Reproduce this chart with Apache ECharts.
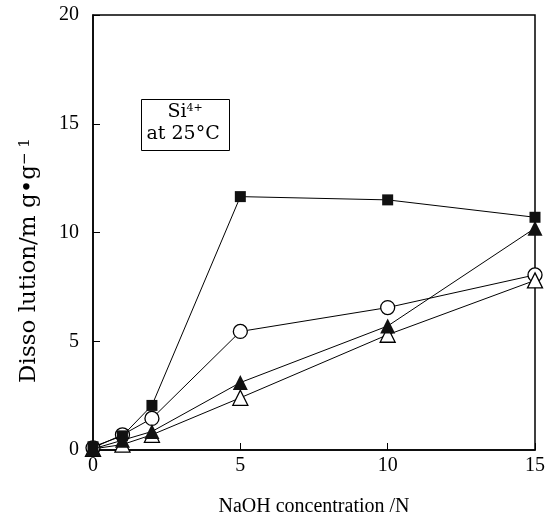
<!DOCTYPE html>
<html>
<head>
<meta charset="utf-8">
<script src="https://cdn.jsdelivr.net/npm/echarts@6/dist/echarts.min.js"></script>
<style>
html,body{margin:0;padding:0;background:#fff;}
#main{width:553px;height:522px;}
</style>
</head>
<body>
<div id="main"></div>
<script>
// NaOH 濃度 (N)
var naoh = [0, 1, 2, 5, 10, 15];
// 溶出量 mg/g
var sqFilled = [0.15, 0.65, 2.05, 11.65, 11.5, 10.7];
var cirOpen = [0.1, 0.7, 1.45, 5.45, 6.55, 8.05];
var triFilled = [0.05, 0.45, 0.85, 3.1, 5.7, 10.2];
var triOpen = [0.05, 0.25, 0.7, 2.4, 5.3, 7.8];
var xTicks = [0, 5, 10, 15];
var yTicks = [0, 5, 10, 15, 20];

var myChart = echarts.init(document.getElementById('main'));
var font = '"Liberation Serif", "DejaVu Serif", serif';
var wide = '"DejaVu Serif", serif';

function pairs(ys) {
    return naoh.map(function (x, i) { return [x, ys[i]]; });
}
function mk(name, ys, symbol, size, filled) {
    return {
        name: name,
        type: 'line',
        data: pairs(ys),
        symbol: symbol,
        symbolSize: size,
        showSymbol: true,
        lineStyle: { color: '#000', width: 1 },
        itemStyle: { color: filled ? '#111' : '#fff', borderColor: '#000', borderWidth: filled ? 0 : 1.3 },
        z: filled ? 3 : 2
    };
}

var option = {
    animation: false,
    grid: {
        left: 93, top: 15, right: 18, bottom: 69,
        show: true, borderColor: '#000', borderWidth: 1.5, backgroundColor: 'transparent'
    },
    xAxis: {
        type: 'value', min: 0, max: 15, interval: 5,
        name: 'NaOH concentration /N',
        nameLocation: 'middle', nameGap: 47,
        nameTextStyle: { fontFamily: font, fontSize: 20, color: '#000' },
        axisLine: { show: true, lineStyle: { color: '#000', width: 1.5 } },
        axisTick: { inside: true, length: 7, lineStyle: { color: '#000' } },
        splitLine: { show: false },
        axisLabel: {
            margin: 6, fontFamily: font, fontSize: 20, color: '#000',
            formatter: function (v) { return xTicks.indexOf(v) >= 0 ? String(v) : ''; }
        }
    },
    yAxis: {
        type: 'value', min: 0, max: 20, interval: 5,
        name: 'Disso lution/m g\u2022g{sup|\u2212 1}',
        nameLocation: 'middle', nameGap: 52,
        nameTextStyle: {
            fontFamily: wide, fontSize: 23, color: '#000',
            padding: [0, 56, 0, 0],
            rich: { sup: { fontFamily: wide, fontSize: 15, verticalAlign: 'top', color: '#000' } }
        },
        axisLine: { show: true, lineStyle: { color: '#000', width: 1.5 } },
        axisTick: { inside: true, length: 7, lineStyle: { color: '#000' } },
        splitLine: { show: false },
        axisLabel: {
            margin: 14, fontFamily: font, fontSize: 20, color: '#000',
            formatter: function (v) { return yTicks.indexOf(v) >= 0 ? String(v) : ''; }
        }
    },
    graphic: [{
        type: 'group', left: 141, top: 99,
        children: [{
            type: 'rect',
            shape: { x: 0, y: 0, width: 88, height: 51 },
            style: { fill: '#fff', stroke: '#000', lineWidth: 1 }
        }, {
            type: 'text', x: 26, y: 3,
            style: {
                text: 'Si{sup|4+}', fontFamily: wide, fontSize: 19, fill: '#000',
                rich: { sup: { fontFamily: wide, fontSize: 11, verticalAlign: 'top', fill: '#000' } }
            }
        }, {
            type: 'text', x: 5, y: 25,
            style: { text: 'at 25\u00b0C', fontFamily: wide, fontSize: 19, fill: '#000' }
        }]
    }],
    series: [
        mk('sq', sqFilled, 'rect', 11, true),
        mk('co', cirOpen, 'circle', 14, false),
        mk('tf', triFilled, 'triangle', 15, true),
        mk('to', triOpen, 'triangle', 15, false)
    ]
};
myChart.setOption(option);
</script>
</body>
</html>
